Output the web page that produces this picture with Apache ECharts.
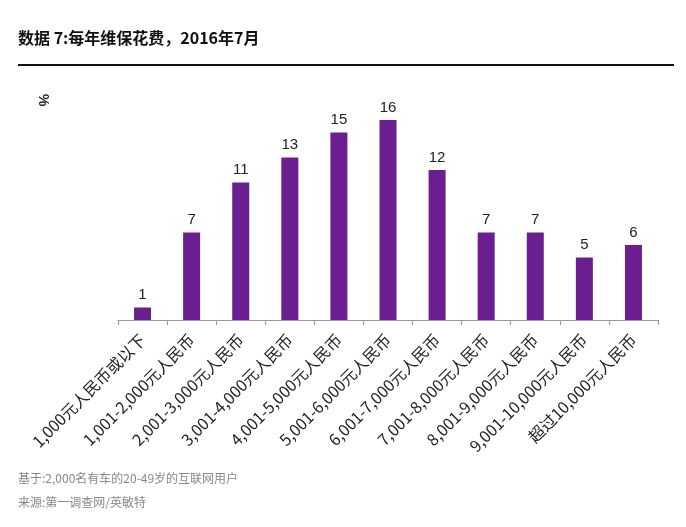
<!DOCTYPE html>
<html><head><meta charset="utf-8">
<script src="https://cdn.jsdelivr.net/npm/echarts@6/dist/echarts.min.js"></script>
<style>html,body{margin:0;padding:0;background:#fff}#c{width:686px;height:527px}</style>
</head><body><div id="c"></div>
<script>
const titleText = '数据 7:每年维保花费，2016年7月';
const categories = ['1,000元人民币或以下','1,001-2,000元人民币','2,001-3,000元人民币','3,001-4,000元人民币','4,001-5,000元人民币','5,001-6,000元人民币','6,001-7,000元人民币','7,001-8,000元人民币','8,001-9,000元人民币','9,001-10,000元人民币','超过10,000元人民币'];
const values = [1, 7, 11, 13, 15, 16, 12, 7, 7, 5, 6];
const unitLabel = '%';
const footnotes = ['基于:2,000名有车的20-49岁的互联网用户', '来源:第一调查网/英敏特'];

const chart = echarts.init(document.getElementById('c'));
chart.setOption({
  animation: false,
  backgroundColor: '#fff',
  title: {
    text: titleText, left: 13, top: 25,
    textStyle: { fontFamily: 'Noto Sans CJK SC', fontSize: 16, fontWeight: 'bold', color: '#111' }
  },
  graphic: [
    { type: 'line', shape: { x1: 18, y1: 65, x2: 674, y2: 65 }, style: { stroke: '#111', lineWidth: 2 } },
    { type: 'text', x: 50, y: 94, rotation: -Math.PI / 2,
      style: { text: unitLabel, fontFamily: 'Liberation Sans', fontSize: 14, fontWeight: 'bold', fill: '#222' } },
    { type: 'text', left: 18, top: 472, style: { text: footnotes[0], fontFamily: 'Noto Sans CJK SC', fontSize: 12, fill: '#888' } },
    { type: 'text', left: 18, top: 496, style: { text: footnotes[1], fontFamily: 'Noto Sans CJK SC', fontSize: 12, fill: '#888' } }
  ],
  grid: { left: 118, right: 28, top: 120, bottom: 207, containLabel: false },
  xAxis: {
    type: 'category', data: categories,
    axisLine: { lineStyle: { color: '#999' } },
    axisTick: { show: true, length: 5, lineStyle: { color: '#999' } },
    axisLabel: {
      interval: 0, rotate: 45, margin: 17,
      fontFamily: 'Noto Sans CJK SC', fontSize: 16, color: '#222'
    }
  },
  yAxis: {
    type: 'value', min: 0, max: 16, show: false
  },
  series: [{
    type: 'bar', data: values, barWidth: 17,
    itemStyle: { color: '#6A1E90' },
    label: { show: true, position: 'top', distance: 5, fontFamily: 'Liberation Sans', fontSize: 15, color: '#222' }
  }]
});
</script></body></html>
